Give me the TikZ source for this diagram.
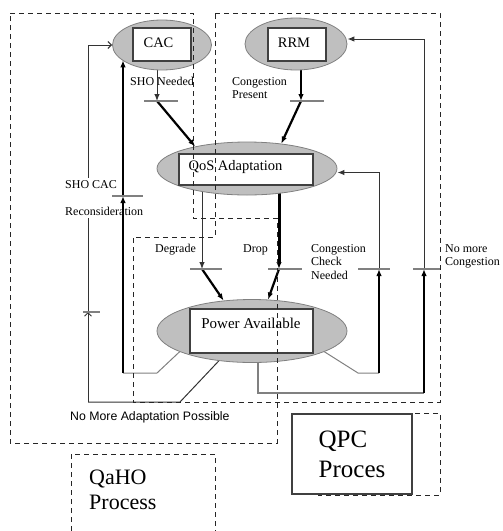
\documentclass[tikz,border=0pt]{standalone}
\usepackage{fontspec}
\setmainfont{Liberation Serif}
\newfontfamily\notefont{Liberation Sans}
\usetikzlibrary{shapes.geometric,arrows.meta,backgrounds}

\begin{document}
\begin{tikzpicture}
        [
            x = 1pt, y = -1pt,
            oval/.style = {ellipse, draw = gray, fill = gray!50, line width = 0.8pt},
            panel/.style = {draw = black!75, fill = white, line width = 1.6pt},
            title/.style = {font = \fontsize{14.5}{16}\selectfont, inner sep = 0},
            lbl/.style = {font = \fontsize{12}{13.5}\selectfont, inner sep = 0, anchor = north west, align = left},
            lite/.style = {line width = 1pt, black!80},
            heavy/.style = {line width = 2.2pt},
            spoke/.style = {line width = 1pt, gray},
            bar/.style = {line width = 1.6pt, gray},
            arr/.style = {-{Latex[length = 7pt, width = 5.5pt]}},
            barb/.style = {-{Straight Barb[length = 3.5pt, width = 7pt]}},
            region/.style = {dash pattern = on 5pt off 4pt, line width = 1pt, black!85},
        ]

        \useasboundingbox (0,0) rectangle (503,531);

        \node[oval, minimum width = 99, minimum height = 50] (cac) at (162,45) {};
        \node[oval, minimum width = 102, minimum height = 52] (rrm) at (296,44) {};
        \node[oval, minimum width = 180, minimum height = 53] (qos) at (247,168.5) {};
        \node[oval, minimum width = 190, minimum height = 63] (pwr) at (252,331) {};

        \node[panel, minimum width = 58, minimum height = 33] (cacbox) at (162,44.5) {};
        \node[panel, minimum width = 58, minimum height = 33] (rrmbox) at (297,44.5) {};
        \node[panel, minimum width = 134, minimum height = 31] (qosbox) at (246,169.5) {};
        \node[panel, minimum width = 123, minimum height = 44] (pwrbox) at (251.5,331) {};

        \node[title, anchor = base] (cactxt) at (158.5,47) {CAC};
        \node[title, anchor = base] (rrmtxt) at (294,47) {RRM};
        \node[title, anchor = base] (qostxt) at (235.5,170) {QoS Adaptation};
        \node[title, anchor = base, font = \fontsize{15}{17}\selectfont] (pwrtxt) at (251,328) {Power Available};

        \coordinate (shobar) at (157,101);
        \coordinate (cngbar) at (301,101);
        \coordinate (degbar) at (202,269);
        \coordinate (dropbar) at (279,269);
        \coordinate (cacbar) at (123,196);
        \coordinate (recbar) at (88,312);
        \coordinate (chkbar) at (379,269);
        \coordinate (freebar) at (424,269);
        \coordinate (lcorner) at (157,373);
        \coordinate (rcorner) at (358,373);
        \coordinate (bcorner) at (258,393);
        \coordinate (ncorner) at (180,402);

        \begin{pgfonlayer}{background}
            \draw[lite, arr] (cac.center -| shobar) -- (shobar);
            \draw[heavy, arr] (shobar) -- (qos.157);
            \draw[heavy, arr] (rrm.center -| cngbar) -- (cngbar);
            \draw[heavy, arr] (cngbar) -- (qos.36);
            \draw[lite, arr] (qos.center -| degbar) -- (degbar);
            \draw[heavy, arr] (degbar) -- (pwr.133);
            \draw[heavy, line width = 3pt, arr] (qos.center -| dropbar) -- (dropbar);
            \draw[heavy, arr] (dropbar) -- (pwr.63);
            \draw[lite] (pwr.222) -- (ncorner) -- (ncorner -| recbar);
            \draw[lite, barb] (ncorner -| recbar) -- (recbar);
            \draw[lite, barb] (recbar) |- (cac.west);
            \node[lbl, fill = white, inner ysep = 2pt] (recon) at (65,178) {SHO CAC\\[14pt]Reconsideration};
            \draw[spoke] (pwr.196) -- (lcorner) -- (lcorner -| cacbar);
            \draw[heavy, arr] (lcorner -| cacbar) -- (cacbar);
            \draw[heavy, arr] (cacbar) -- (cacbar |- cac.201);
            \draw[spoke] (pwr.-16) -- (rcorner) -- (rcorner -| chkbar);
            \draw[heavy, arr] (rcorner -| chkbar) -- (chkbar);
            \draw[lite, arr] (chkbar) |- ([yshift = -4pt]qos.east);
            \draw[spoke, line width = 1.5pt] (pwr.center -| bcorner) -- (bcorner) -- (bcorner -| freebar);
            \draw[heavy, arr] (bcorner -| freebar) -- (freebar);
            \draw[lite, arr] (freebar) |- ([yshift = 5pt]rrm.east);
        \end{pgfonlayer}

        \draw[bar] ([xshift = -13pt]shobar) -- ([xshift = 21pt]shobar);
        \draw[bar] ([xshift = -11pt]cngbar) -- ([xshift = 23pt]cngbar);
        \draw[bar] ([xshift = -11pt]cacbar) -- ([xshift = 20pt]cacbar);
        \draw[bar] ([xshift = -5pt]recbar) -- ([xshift = 12pt]recbar);
        \draw[bar] ([xshift = -12pt]degbar) -- ([xshift = 20pt]degbar);
        \draw[bar] ([xshift = -11pt]dropbar) -- ([xshift = 23pt]dropbar);
        \draw[bar] ([xshift = -21pt]chkbar) -- ([xshift = 11pt]chkbar);
        \draw[bar] ([xshift = -11pt]freebar) -- ([xshift = 16pt]freebar);

        \node[lbl] (shoneed) at (130,77) {SHO Needed};
        \node[lbl] (cngpres) at (232,77) {Congestion\\Present};
        \node[lbl] (degrade) at (155,244) {Degrade};
        \node[lbl] (drop) at (243,244) {Drop};
        \node[lbl] (chkneed) at (311,244) {Congestion\\Check\\Needed};
        \node[lbl] (nomore) at (445,244) {No more\\Congestion};
        \node[lbl, font = \notefont\fontsize{12.3}{14}\selectfont] (noadapt) at (70,411) {No More Adaptation Possible};

        \draw[region] (318,413) rectangle (440,495);
        \node[panel, minimum width = 120, minimum height = 80, align = left, font = \fontsize{25}{30}\selectfont] (qpc) at (352,454) {QPC\\Proces};

        \draw[region] (71,531) -- (71,454) -- (215,454) -- (215,531);
        \node[font = \fontsize{22}{25}\selectfont, inner sep = 0, anchor = north west, align = left] (qaho) at (89,470) {QaHO\\Process};

        \draw[region] (10,13) -- (193,13) -- (193,218) -- (277,218) -- (277,443) -- (10,443) -- cycle;
        \draw[region] (215,13) -- (440,13) -- (440,402) -- (133,402) -- (133,237) -- (215,237) -- cycle;

    \end{tikzpicture}
\end{document}
